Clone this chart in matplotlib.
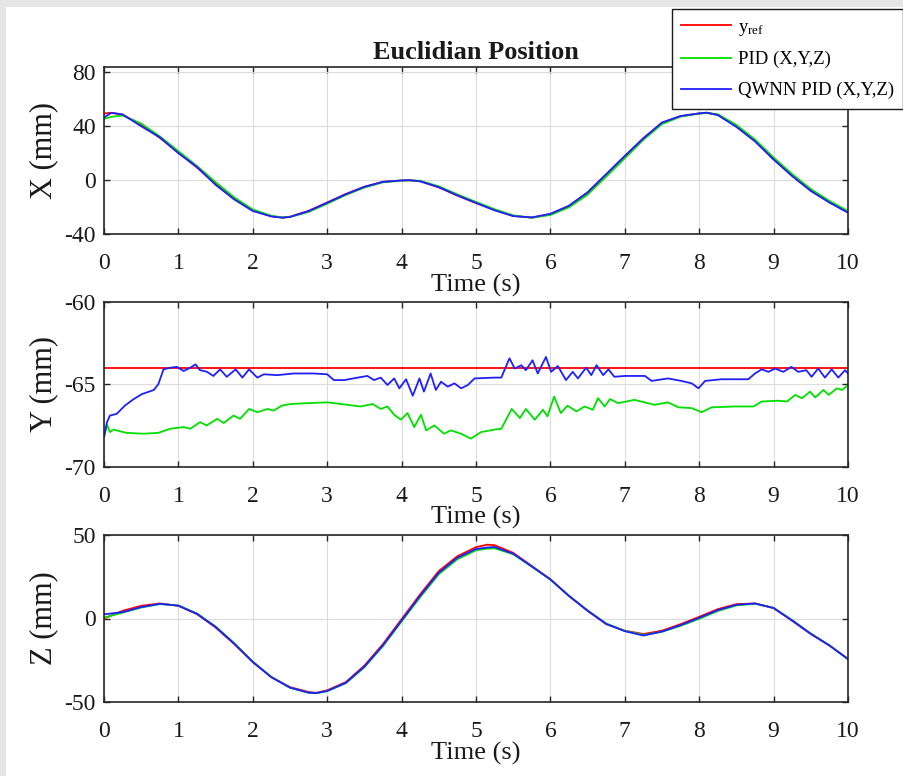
import numpy as np
import matplotlib
matplotlib.use("Agg")
import matplotlib.pyplot as plt
from matplotlib.patches import Rectangle
from matplotlib.lines import Line2D

plt.rcParams["font.family"] = ["Liberation Serif", "DejaVu Serif"]
plt.rcParams["mathtext.fontset"] = "custom"
plt.rcParams["mathtext.rm"] = "Liberation Serif"
plt.rcParams["mathtext.it"] = "Liberation Serif:italic"
plt.rcParams["axes.unicode_minus"] = False

# X position (mm)
t_x = [0, 0.1, 0.25, 0.5, 0.75, 1.0, 1.25, 1.5, 1.75, 2.0, 2.25, 2.4, 2.5, 2.75, 3.0, 3.25, 3.5,
       3.75, 4.0, 4.1, 4.25, 4.5, 4.75, 5.0, 5.25, 5.5, 5.75, 6.0, 6.25, 6.5, 6.75, 7.0, 7.25, 7.5,
       7.75, 8.0, 8.1, 8.25, 8.5, 8.75, 9.0, 9.25, 9.5, 9.75, 10.0]
x_ref = [49.5, 50.0, 48.5, 41.2, 31.4, 20.4, 9.3, -2.9, -14.0, -22.6, -26.8, -27.8, -27.2, -22.8,
         -16.6, -10.3, -4.9, -1.2, -0.3, -0.1, -0.8, -5.4, -11.5, -17.0, -22.2, -26.6, -27.8, -25.3,
         -19.2, -9.4, 4.1, 17.7, 31.2, 42.5, 47.5, 49.5, 50.0, 48.5, 40.0, 29.0, 15.5, 3.2, -7.8,
         -16.4, -23.8]
x_pid = [45.5, 47.0, 48.0, 42.0, 32.5, 21.5, 10.5, -1.5, -12.8, -21.8, -26.5, -27.7, -27.4, -23.6,
         -17.5, -11.0, -5.5, -1.6, -0.4, -0.2, -0.5, -4.6, -10.6, -16.2, -21.6, -26.2, -27.9, -25.9,
         -20.2, -10.8, 2.6, 16.2, 30.0, 41.6, 47.2, 49.4, 49.8, 48.9, 41.0, 30.2, 16.8, 4.5, -6.6,
         -15.4, -23.0]
x_qwnn = [46.5, 50.0, 48.8, 40.0, 31.8, 20.0, 9.8, -3.5, -14.3, -22.9, -27.0, -27.9, -27.3, -23.0,
          -16.8, -10.5, -5.0, -1.3, -0.2, 0.0, -0.9, -5.2, -11.3, -16.9, -22.4, -26.7, -27.7, -25.0,
          -19.0, -9.0, 4.5, 18.0, 31.0, 42.8, 47.6, 49.6, 50.1, 48.3, 39.5, 28.8, 15.3, 3.0, -8.0,
          -16.6, -24.2]

# Y position (mm)
y_ref_t = [0, 10]
y_ref = [-64, -64]
y_pid_t = [0, 0.04, 0.08, 0.13, 0.3, 0.53, 0.73, 0.89, 1.07, 1.16, 1.29, 1.38, 1.52, 1.61, 1.74, 1.83,
           1.95, 2.06, 2.2, 2.28, 2.39, 2.51, 2.73, 3.0, 3.27, 3.45, 3.61, 3.72, 3.81, 3.9, 3.99, 4.08,
           4.17, 4.26, 4.33, 4.44, 4.57, 4.66, 4.8, 4.93, 5.07, 5.25, 5.34, 5.48, 5.59, 5.67, 5.79,
           5.9, 5.96, 6.05, 6.14, 6.23, 6.35, 6.46, 6.57, 6.64, 6.73, 6.8, 6.91, 7.13, 7.4, 7.58, 7.72,
           7.9, 8.03, 8.17, 8.48, 8.73, 8.84, 9.06, 9.18, 9.29, 9.38, 9.49, 9.56, 9.67, 9.74, 9.85,
           9.92, 10.0]
y_pid = [-68.2, -67.45, -67.9, -67.75, -67.95, -68.0, -67.95, -67.7, -67.6, -67.7, -67.3, -67.5, -67.1,
         -67.35, -66.9, -67.1, -66.5, -66.7, -66.5, -66.6, -66.3, -66.2, -66.15, -66.1, -66.25, -66.35,
         -66.2, -66.5, -66.35, -66.85, -67.15, -66.75, -67.6, -66.85, -67.8, -67.5, -68.0, -67.8, -68.0,
         -68.3, -67.9, -67.75, -67.7, -66.5, -67.05, -66.5, -67.15, -66.55, -66.95, -65.75, -66.75,
         -66.3, -66.65, -66.35, -66.55, -65.85, -66.35, -65.9, -66.15, -65.95, -66.25, -66.1, -66.4,
         -66.45, -66.7, -66.4, -66.35, -66.35, -66.05, -66.0, -66.05, -65.65, -65.85, -65.45, -65.8,
         -65.35, -65.65, -65.25, -65.35, -65.05]
y_qwnn_t = [0, 0.04, 0.08, 0.17, 0.28, 0.4, 0.51, 0.67, 0.73, 0.8, 0.89, 0.98, 1.07, 1.16, 1.23, 1.29,
            1.38, 1.47, 1.56, 1.65, 1.77, 1.86, 1.95, 2.06, 2.15, 2.33, 2.55, 2.82, 3.0, 3.09, 3.23,
            3.41, 3.54, 3.63, 3.72, 3.81, 3.9, 3.97, 4.06, 4.15, 4.24, 4.3, 4.39, 4.46, 4.53, 4.62,
            4.71, 4.8, 4.89, 4.98, 5.25, 5.34, 5.45, 5.52, 5.61, 5.67, 5.76, 5.83, 5.94, 6.01, 6.1,
            6.21, 6.3, 6.37, 6.48, 6.55, 6.62, 6.71, 6.78, 6.86, 7.0, 7.27, 7.36, 7.58, 7.76, 7.9,
            7.99, 8.08, 8.3, 8.66, 8.75, 8.84, 8.93, 9.02, 9.13, 9.24, 9.33, 9.44, 9.51, 9.6, 9.69,
            9.78, 9.87, 9.96, 10.0]
y_qwnn = [-68.2, -67.3, -66.9, -66.8, -66.3, -65.9, -65.6, -65.35, -65.0, -64.1, -64.0, -63.95, -64.2,
          -64.0, -63.8, -64.15, -64.24, -64.5, -64.1, -64.55, -64.1, -64.6, -64.1, -64.6, -64.4, -64.45,
          -64.35, -64.35, -64.4, -64.75, -64.75, -64.6, -64.5, -64.75, -64.6, -65.05, -64.65, -65.25,
          -64.7, -65.7, -64.65, -65.45, -64.35, -65.35, -64.85, -65.15, -64.95, -65.25, -65.05, -64.65,
          -64.6, -64.6, -63.43, -64.05, -63.85, -64.15, -63.55, -64.35, -63.35, -64.25, -63.9, -64.75,
          -64.25, -64.65, -64.0, -64.45, -63.85, -64.45, -64.1, -64.55, -64.5, -64.5, -64.8, -64.65,
          -64.8, -64.95, -65.25, -64.8, -64.7, -64.7, -64.35, -64.1, -64.25, -64.05, -64.25, -63.95,
          -64.25, -64.15, -64.55, -64.05, -64.6, -64.1, -64.6, -64.15, -64.35]

# Z position (mm)
t_z = [0, 0.25, 0.5, 0.75, 1.0, 1.25, 1.5, 1.75, 2.0, 2.25, 2.5, 2.75, 2.85, 3.0, 3.25, 3.5, 3.75,
       4.0, 4.25, 4.5, 4.75, 5.0, 5.15, 5.25, 5.5, 5.75, 6.0, 6.25, 6.5, 6.75, 7.0, 7.25, 7.5, 7.75,
       8.0, 8.25, 8.5, 8.75, 9.0, 9.25, 9.5, 9.75, 10.0]
z_ref = [0.0, 4.6, 7.6, 9.0, 7.6, 2.6, -5.4, -15.3, -26.2, -35.1, -41.1, -44.0, -44.5, -43.0, -38.1,
         -28.2, -15.3, -0.4, 14.5, 28.4, 37.3, 42.7, 44.2, 43.9, 39.3, 31.4, 23.5, 13.5, 4.6, -3.4,
         -7.3, -9.3, -7.3, -3.4, 1.0, 5.6, 8.6, 9.0, 6.2, -1.4, -9.3, -16.2, -24.2]
z_pid = [0.5, 3.5, 6.6, 8.6, 7.8, 3.0, -4.8, -14.8, -25.8, -35.0, -41.5, -44.5, -44.8, -43.5, -38.8,
         -29.2, -16.5, -1.8, 12.8, 26.5, 35.5, 40.8, 41.8, 42.0, 38.5, 31.0, 23.2, 13.5, 4.8, -3.0,
         -7.4, -9.8, -8.0, -4.4, -0.2, 4.5, 7.8, 8.9, 6.4, -1.0, -9.0, -16.0, -24.5]
z_qwnn = [2.5, 3.8, 6.8, 8.8, 7.7, 2.8, -5.0, -15.0, -26.0, -35.2, -41.4, -44.4, -44.7, -43.4, -38.5,
          -28.8, -16.0, -1.2, 13.6, 27.4, 36.4, 41.6, 42.5, 42.8, 38.8, 31.2, 23.4, 13.5, 4.7, -3.2,
          -7.6, -10.2, -7.8, -4.0, 0.4, 5.0, 8.2, 9.0, 6.3, -1.2, -9.2, -16.1, -24.3]

labels = [r"y$_{\mathrm{ref}}$", "PID (X,Y,Z)", "QWNN PID (X,Y,Z)"]
colors = ["#ff0000", "#00e000", "#1f1fff"]

W, H = 904, 776
fig = plt.figure(figsize=(W / 100, H / 100), dpi=100)
fig.patch.set_facecolor("#e6e6e6")
fig.add_artist(Rectangle((6 / W, 0), 1, 1 - 7 / H, transform=fig.transFigure,
                         facecolor="white", edgecolor="none", zorder=-5))

# axes boxes in pixels: (top, bottom)
boxes = [(67, 234), (301.7, 466.7), (535, 702)]
left, right = 104, 848
axes = []
for top, bot in boxes:
    ax = fig.add_axes([left / W, (H - bot) / H, (right - left) / W, (bot - top) / H])
    axes.append(ax)

ax1, ax2, ax3 = axes
lw = 1.3
for yy, c in zip([x_ref, x_pid, x_qwnn], colors):
    ax1.plot(t_x, yy, color=c, lw=lw)
ax2.plot(y_ref_t, y_ref, color=colors[0], lw=lw)
ax2.plot(y_pid_t, y_pid, color=colors[1], lw=lw)
ax2.plot(y_qwnn_t, y_qwnn, color=colors[2], lw=lw)
for yy, c in zip([z_ref, z_pid, z_qwnn], colors):
    ax3.plot(t_z, yy, color=c, lw=lw)

ax1.set_ylim(-40, 84)
ax1.set_yticks([-40, 0, 40, 80])
ax2.set_ylim(-70, -60)
ax2.set_yticks([-70, -65, -60])
ax3.set_ylim(-50, 50)
ax3.set_yticks([-50, 0, 50])

for ax, name, (top, bot) in zip(axes, ["X (mm)", "Y (mm)", "Z (mm)"], boxes):
    ax.set_xlim(0, 10)
    ax.set_xticks(range(11))
    ax.grid(True, color="#dcdcdc", lw=0.8)
    ax.set_axisbelow(True)
    ax.tick_params(direction="in", top=True, right=True, length=4, width=1,
                   color="#262626", labelsize=17, labelcolor="#1a1a1a")
    ax.tick_params(axis="x", pad=14)
    ax.tick_params(axis="y", pad=6)
    for s in ax.spines.values():
        s.set_color("#262626")
        s.set_linewidth(1.2)
    ax.set_xlabel("Time (s)", fontsize=19, color="#1a1a1a", va="center")
    ax.xaxis.set_label_coords(0.5, -51 / (bot - top))
    ax.set_ylabel(name, fontsize=22, color="#1a1a1a")
    ax.yaxis.set_label_coords(-0.062, 0.5)

ax1.set_title("Euclidian Position", fontsize=19, fontweight="bold", pad=6, color="#1a1a1a")

handles = [Line2D([], [], color=c, lw=1.3) for c in colors]
leg = fig.legend(handles, labels, loc="upper left", bbox_to_anchor=(672 / W, 1 - 9 / H),
                 frameon=True, fancybox=False, edgecolor="#1a1a1a", framealpha=1,
                 borderaxespad=0, fontsize=13.5, handlelength=2.65, handletextpad=0.35,
                 borderpad=0.5, labelspacing=0.72)
leg.get_frame().set_linewidth(1.0)

fig.savefig("out.png", dpi=100, facecolor=fig.get_facecolor())
